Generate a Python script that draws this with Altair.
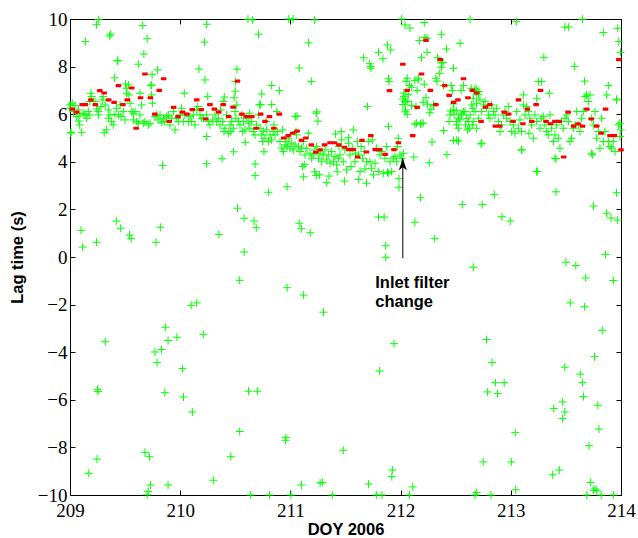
import altair as alt
import pandas as pd

# ---------------- data ----------------
# red hourly lag estimates (DOY, lag s)
red_x = [209.02, 209.06, 209.11, 209.14, 209.19, 209.23, 209.27, 209.31, 209.35, 209.40,
         209.44, 209.48, 209.52, 209.56, 209.60, 209.64, 209.68, 209.73, 209.77, 209.81,
         209.85, 209.90, 209.94, 209.98, 210.02, 210.06, 210.11, 210.15, 210.19, 210.23,
         210.27, 210.31, 210.35, 210.39, 210.44, 210.48, 210.52, 210.56, 210.60, 210.65,
         210.69, 210.73, 210.77, 210.81, 210.85, 210.90, 210.94, 210.98, 211.02, 211.06,
         211.10, 211.14, 211.19, 211.23, 211.27, 211.31, 211.36, 211.40, 211.44, 211.49,
         211.53, 211.57, 211.61, 211.65, 211.69, 211.73, 211.77, 211.81, 211.86, 211.90,
         211.94, 211.98, 212.02, 212.06, 212.11, 212.15, 212.19, 212.23, 212.27, 212.32,
         212.36, 212.40, 212.44, 212.48, 212.52, 212.57, 212.61, 212.65, 212.69, 212.73,
         212.77, 212.81, 212.86, 212.90, 212.94, 212.98, 213.02, 213.07, 213.11, 213.15,
         213.19, 213.23, 213.27, 213.32, 213.36, 213.40, 213.44, 213.48, 213.52, 213.57,
         213.61, 213.65, 213.69, 213.73, 213.78, 213.82, 213.86, 213.90, 213.94, 213.98,
         214.00]
red_y = [6.21, 6.09, 6.40, 6.40, 6.60, 6.40, 6.99, 6.89, 6.60, 6.50,
         7.20, 6.40, 6.60, 7.10, 5.41, 6.69, 7.69, 6.69, 6.00, 7.00,
         7.49, 5.70, 6.29, 5.90, 6.09, 6.00, 6.19, 6.60, 6.19, 5.80,
         6.40, 6.21, 6.09, 6.40, 5.90, 6.30, 7.39, 6.00, 5.90, 5.90,
         5.41, 6.00, 5.70, 5.90, 5.41, 6.00, 5.00, 5.10, 5.20, 5.29,
         4.90, 5.00, 4.71, 4.40, 4.50, 4.71, 4.80, 4.80, 4.71, 4.61,
         4.51, 4.51, 4.20, 4.90, 4.41, 5.10, 4.51, 4.51, 4.31, 6.99,
         4.51, 4.80, 8.10, 7.00, 5.10, 6.29, 7.69, 9.10, 7.00, 6.40,
         8.29, 7.20, 6.79, 6.50, 6.60, 7.49, 6.69, 7.00, 6.89, 5.70,
         6.30, 6.40, 5.50, 5.50, 6.09, 6.00, 5.70, 6.60, 5.60, 6.21,
         5.70, 6.40, 7.00, 5.70, 5.60, 5.70, 5.70, 4.20, 6.09, 5.50,
         5.60, 5.50, 6.21, 5.80, 5.50, 5.20, 6.21, 5.10, 5.10, 8.29,
         4.50]

# green individual lag determinations, as (DOY, lag s) pairs
green_band_209 = [
    (209.00, 6.39), (209.02, 6.46), (209.00, 6.25), (209.045, 6.36), (209.03, 6.11),
    (209.076, 6.18), (209.09, 5.97), (209.06, 5.90), (209.08, 5.71), (209.01, 5.24),
    (209.088, 5.55), (209.106, 5.24), (209.12, 6.04), (209.136, 5.97), (209.151, 5.83),
    (209.166, 6.11), (209.18, 5.97), (209.19, 6.88), (209.18, 6.53), (209.196, 6.74),
    (209.227, 6.53), (209.242, 6.22), (209.257, 6.11), (209.257, 5.97), (209.28, 6.32),
    (209.293, 6.60), (209.302, 6.74), (209.31, 5.22), (209.33, 5.34), (209.32, 6.39),
    (209.348, 6.18), (209.348, 5.83), (209.363, 5.97), (209.378, 5.69), (209.393, 5.55),
    (209.408, 5.99), (209.423, 6.25), (209.439, 5.97), (209.454, 6.39), (209.463, 5.90),
    (209.484, 6.11), (209.499, 5.76), (209.514, 7.09), (209.53, 7.23), (209.514, 6.88),
    (209.535, 6.81), (209.545, 6.46), (209.56, 6.11), (209.575, 6.04), (209.575, 5.76),
    (209.59, 6.11), (209.605, 5.69), (209.62, 5.62), (209.635, 5.97), (209.65, 6.39),
    (209.635, 6.88), (209.665, 5.62), (209.68, 5.69), (209.71, 5.55), (209.726, 5.62),
    (209.741, 6.81), (209.747, 6.46), (209.741, 7.23), (209.771, 5.90), (209.786, 5.97),
    (209.80, 5.76), (209.817, 5.97), (209.832, 5.66), (209.847, 5.83), (209.856, 5.69),
    (209.877, 5.90), (209.892, 5.97), (209.907, 5.55), (209.922, 5.83), (209.938, 6.11),
    (209.953, 5.34), (209.968, 5.83), (209.983, 5.69), (209.998, 5.97), (210.013, 6.25),
    (210.028, 5.69), (210.037, 6.88), (210.043, 5.97), (210.074, 5.69), (210.089, 5.90),
    (210.104, 5.69), (210.12, 5.97), (210.134, 5.55), (210.15, 6.18), (210.16, 6.32),
    (210.18, 5.97), (210.195, 5.83), (210.21, 5.83), (209.006, 5.21), (209.735, 7.20),
]
green_band_210 = [
    (210.24, 5.97), (210.255, 5.69), (210.24, 5.06), (210.27, 5.55), (210.295, 5.76),
    (210.316, 5.97), (210.331, 5.69), (210.346, 5.83), (210.361, 5.55), (210.367, 6.18),
    (210.385, 5.69), (210.39, 6.53), (210.397, 5.27), (210.406, 5.41), (210.42, 5.97),
    (210.437, 5.20), (210.452, 5.55), (210.458, 5.27), (210.467, 5.69), (210.482, 5.41),
    (210.497, 6.11), (210.506, 5.83), (210.513, 6.39), (210.528, 5.69), (210.543, 5.55),
    (210.558, 5.97), (210.567, 5.27), (210.573, 5.69), (210.588, 5.34), (210.603, 5.83),
    (210.618, 5.62), (210.627, 6.04), (210.633, 5.41), (210.649, 5.69), (210.664, 5.27),
    (210.679, 5.13), (210.694, 5.55), (210.709, 5.97), (210.718, 6.39), (210.724, 5.41),
    (210.74, 5.13), (210.748, 4.85), (210.754, 5.27), (210.77, 4.99), (210.779, 5.69),
    (210.785, 5.34), (210.80, 4.85), (210.815, 5.13), (210.83, 4.92), (210.845, 5.27),
    (210.851, 5.55), (210.86, 5.13), (210.876, 6.11), (210.882, 5.27), (210.906, 4.85),
    (210.921, 4.57), (210.93, 5.34), (210.936, 4.43), (210.951, 4.71), (210.96, 4.85),
    (210.972, 4.64), (210.981, 4.99), (210.996, 4.57), (211.012, 4.78), (211.027, 4.50),
    (211.042, 4.71), (211.051, 5.27), (211.057, 5.13), (211.072, 4.64), (211.087, 4.43),
    (211.102, 4.57), (211.117, 4.85), (211.133, 4.29), (211.148, 4.57), (211.163, 5.20),
    (211.178, 4.36), (211.193, 4.15), (211.208, 4.29), (211.223, 4.50), (211.238, 4.64),
    (211.254, 4.15), (211.269, 4.36), (211.284, 4.00), (211.299, 4.29), (211.314, 4.50),
    (211.329, 4.08), (211.344, 4.29), (211.36, 3.94), (211.375, 4.43), (211.39, 4.00),
    (211.405, 4.22), (211.42, 3.87), (211.435, 4.15),
]
green_band_211 = [
    (211.441, 4.64), (211.45, 4.29), (211.465, 4.92), (211.48, 4.00), (211.495, 4.50),
    (211.51, 3.66), (211.526, 4.78), (211.541, 4.29), (211.55, 3.80), (211.562, 4.57),
    (211.571, 5.34), (211.586, 4.00), (211.592, 4.36), (211.61, 4.85), (211.617, 4.29),
    (211.632, 3.59), (211.641, 4.64), (211.653, 4.15), (211.671, 4.43), (211.677, 3.70),
    (211.692, 4.00), (211.707, 4.85), (211.722, 4.00), (211.737, 3.73), (211.744, 4.92),
    (211.753, 3.45), (211.768, 3.94), (211.783, 4.57), (211.798, 3.59), (211.813, 4.29),
    (211.828, 4.43), (211.843, 3.52), (211.858, 4.15), (211.874, 4.64), (211.889, 3.52),
    (211.904, 4.00), (211.919, 3.59), (211.934, 4.15), (211.949, 4.22), (211.964, 4.00),
    (211.973, 4.64), (211.979, 4.99), (211.994, 4.29), (212.01, 4.15), (212.025, 4.36),
    (211.41, 5.17), (211.462, 5.27), (211.526, 5.01),
]
green_band_212 = [
    (212.448, 5.97), (212.478, 6.18), (212.509, 5.55), (212.539, 5.76), (212.554, 5.97),
    (212.584, 6.11), (212.60, 5.83), (212.63, 5.97), (212.66, 5.69), (212.675, 6.11),
    (212.705, 5.83), (212.69, 5.41), (212.608, 5.34), (212.524, 5.41),
    (211.89, 7.49), (212.06, 7.51), (212.16, 7.51), (212.13, 7.42), (212.215, 7.26),
    (212.08, 7.20), (212.10, 7.13), (212.15, 7.00), (212.32, 7.51), (212.33, 7.39),
    (212.39, 7.20), (212.46, 7.20), (212.47, 6.99), (212.57, 7.20), (212.55, 7.00),
    (212.64, 7.09), (212.675, 7.09), (212.69, 6.89), (212.03, 6.75), (212.045, 6.55),
    (212.065, 6.53), (212.045, 6.18), (212.04, 6.10), (212.06, 6.00), (212.23, 6.69),
    (212.245, 6.42), (212.275, 6.21), (212.30, 6.36), (212.265, 6.06), (212.145, 5.62),
    (212.185, 5.62), (212.205, 5.62), (212.455, 6.13), (212.485, 6.00), (212.505, 5.69),
    (212.44, 5.69), (212.525, 5.83), (212.55, 6.04), (212.57, 6.10), (212.59, 5.55),
    (212.615, 5.69), (212.625, 5.41), (212.65, 5.55), (212.645, 6.39), (212.655, 6.25),
    (212.525, 4.87), (212.48, 6.43), (212.505, 6.15), (212.66, 6.67), (212.71, 6.95),
    (212.30, 6.40), (212.03, 6.89), (212.07, 6.82), (212.02, 6.41), (212.10, 6.37),
    (212.14, 6.33), (212.205, 6.50),
]
green_band_213 = [
    (212.69, 7.02), (212.705, 6.81), (212.72, 6.60), (212.69, 6.46), (212.736, 6.11),
    (212.751, 6.39), (212.766, 6.53), (212.781, 6.25), (212.796, 5.97), (212.811, 5.83),
    (212.826, 6.39), (212.841, 6.11), (212.857, 5.97), (212.872, 6.25), (212.887, 5.69),
    (212.902, 5.27), (212.917, 5.55), (212.932, 5.97), (212.947, 6.11), (212.962, 5.83),
    (212.977, 6.32), (212.993, 5.69), (213.008, 5.27), (213.023, 5.55), (213.038, 5.20),
    (213.053, 6.11), (213.068, 5.41), (213.083, 5.76), (213.098, 5.27), (213.114, 6.81),
    (213.114, 6.39), (213.129, 5.97), (213.144, 6.32), (213.159, 6.11), (213.165, 5.20),
    (213.174, 5.83), (213.189, 5.55), (213.204, 4.99), (213.219, 5.97), (213.235, 6.67),
    (213.235, 5.69), (213.25, 7.37), (213.265, 5.41), (213.28, 5.83), (213.295, 5.90),
    (213.31, 5.55), (213.325, 5.27), (213.34, 5.13), (213.356, 5.97), (213.371, 5.41),
    (213.386, 4.85), (213.401, 5.13), (213.416, 5.55), (213.431, 4.99), (213.446, 4.57),
    (213.461, 5.69), (213.477, 5.41), (213.492, 5.83), (213.507, 5.97), (213.522, 5.69),
    (213.537, 4.85), (213.552, 4.99), (213.567, 5.41), (213.582, 5.55), (213.598, 6.11),
    (213.613, 5.55), (213.628, 5.27), (213.643, 5.83), (213.658, 6.11), (213.673, 6.74),
    (213.688, 6.81), (213.703, 6.53), (213.719, 6.81), (213.734, 5.83), (213.749, 5.55),
    (213.764, 6.11), (213.779, 4.99), (213.794, 5.27), (213.809, 4.57), (213.824, 5.83),
    (213.84, 4.85), (213.855, 5.27), (213.87, 6.81), (213.885, 4.85), (213.90, 4.64),
    (213.915, 4.57), (213.93, 4.85), (213.945, 4.43), (213.96, 6.60), (213.976, 5.55),
    (213.99, 5.06), (213.998, 5.34), (212.736, 4.78), (213.098, 4.50), (213.401, 4.15),
    (213.734, 4.36), (213.35, 6.88), (213.28, 7.37),
]
green_upper = [
    (212.01, 10.0), (212.04, 9.75), (212.085, 9.62), (212.215, 9.85), (212.63, 9.99),
    (213.05, 9.89), (213.49, 9.66), (213.525, 9.66), (213.65, 9.99), (213.84, 9.43),
    (213.97, 9.61), (213.98, 9.05), (213.995, 8.60), (212.22, 9.22), (212.37, 9.36),
    (212.54, 8.98), (211.88, 8.91), (211.91, 8.70), (211.80, 8.60), (211.665, 8.37),
    (211.72, 8.12), (211.73, 7.93), (211.84, 8.33), (212.24, 8.60), (212.19, 8.37),
    (212.37, 8.15), (212.355, 7.72), (212.415, 8.74), (212.48, 7.93), (213.30, 8.39),
    (213.58, 8.01), (213.67, 7.39), (213.885, 7.20), (213.96, 6.63), (211.70, 6.32),
    (211.89, 5.49), (211.895, 7.37), (212.05, 7.38), (212.02, 6.64), (212.04, 6.51),
    (212.16, 7.44), (212.13, 5.58), (212.18, 5.58), (212.285, 4.83), (212.48, 4.90),
    (212.42, 4.30), (212.73, 4.75), (213.99, 5.62), (212.39, 5.31), (212.51, 4.91),
    (209.24, 9.76), (209.26, 9.97), (209.14, 9.05), (209.37, 9.36), (209.36, 9.29),
    (209.66, 9.73), (209.70, 9.17), (209.67, 8.53), (209.62, 8.10), (209.43, 8.24),
    (209.435, 8.26), (209.405, 7.53), (209.505, 7.27), (209.795, 7.86), (209.745, 7.66),
    (210.24, 9.78), (210.22, 9.03), (210.17, 7.90), (210.225, 7.44), (210.515, 7.89),
    (210.50, 7.37), (210.615, 9.99), (210.655, 9.96), (210.71, 9.36), (210.83, 7.21),
    (210.90, 6.99), (210.985, 10.0), (211.025, 10.0), (211.22, 9.96), (211.165, 9.00),
    (211.08, 7.94), (211.19, 7.38), (211.235, 6.04), (211.045, 5.90), (210.74, 6.85),
    (210.50, 6.97), (210.49, 6.69), (210.25, 6.75), (210.40, 6.72), (210.73, 6.41),
    (210.83, 6.41), (211.06, 5.92), (211.24, 6.10), (211.25, 5.71), (211.73, 8.00),
    (212.24, 9.19), (212.17, 9.10), (212.335, 8.37), (212.385, 8.18), (212.37, 7.97),
]
green_middle = [
    (209.10, 1.12), (209.115, 0.42), (209.24, 0.62), (209.42, 1.51), (209.46, 1.21),
    (209.54, 0.92), (209.555, 0.77), (209.78, 0.62), (209.82, 1.25), (209.84, 3.85),
    (210.24, 3.92), (210.35, 0.95), (210.38, 4.13), (210.485, 4.42), (210.52, 2.05),
    (210.58, 1.63), (210.58, 0.21), (210.67, 1.51), (210.69, 1.23), (210.68, 3.91),
    (210.68, 3.42), (210.80, 2.72), (210.97, 2.95), (211.08, 1.42), (211.10, 1.19),
    (211.18, 1.02), (211.12, 3.37), (211.13, 3.88), (211.80, 1.68), (211.85, 1.68),
    (211.865, 0.47), (211.865, -0.01), (211.985, 2.93), (211.985, 3.29), (212.18, 2.49),
    (212.13, 1.46), (212.31, 0.77), (212.56, 2.20), (212.74, 2.20), (212.85, 2.62),
    (212.92, 1.69), (212.995, 1.51), (213.24, 3.60), (213.41, 2.74), (213.75, 2.14),
    (213.87, 1.84), (213.91, 1.64), (213.96, 2.70), (213.97, 1.55), (213.86, 0.11),
    (211.88, 3.56), (212.12, 4.20), (212.26, 3.96), (213.10, 4.50), (213.41, 4.13),
    (213.74, 4.30), (211.49, 3.19), (211.62, 3.26), (211.69, 3.10), (211.11, 3.80),
    (211.235, 3.42), (211.22, 3.58), (211.33, 3.12), (211.35, 3.40), (211.425, 3.58),
    (210.76, 4.42), (210.59, 4.82), (211.265, 3.45), (213.235, 3.58),
]
green_lower = [
    (210.54, -0.98), (210.97, -1.29), (211.12, -1.60), (210.10, -2.03), (210.15, -1.93),
    (209.865, -2.95), (210.21, -3.25), (209.32, -3.56), (209.89, -3.51), (209.97, -3.37),
    (209.83, -3.89), (209.77, -3.99), (209.79, -4.44), (210.02, -4.69), (209.25, -5.56),
    (209.255, -5.65), (209.86, -5.70), (210.03, -5.88), (210.62, -5.64), (210.70, -5.64),
    (210.11, -6.51), (210.54, -7.33), (210.96, -7.59), (210.955, -7.70), (209.68, -8.21),
    (209.72, -8.39), (210.46, -8.39), (209.245, -8.49), (209.17, -9.09), (210.30, -9.38),
    (209.73, -9.58), (209.89, -9.58), (211.10, -9.58), (209.71, -9.85), (209.70, -9.99),
    (210.64, -10.0), (210.81, -10.0), (211.005, -10.0), (211.27, -9.50), (212.66, -0.43),
    (213.50, -0.22), (213.59, -0.36), (213.68, -0.88), (213.93, -0.99), (213.54, -1.93),
    (213.67, -2.09), (211.30, -2.32), (213.83, -3.08), (211.94, -3.64), (212.78, -3.47),
    (213.76, -4.19), (212.83, -4.43), (213.49, -4.63), (211.81, -4.79), (213.63, -4.92),
    (212.86, -5.28), (212.94, -5.28), (213.65, -5.28), (212.79, -5.67), (212.88, -5.74),
    (213.66, -5.87), (213.47, -6.09), (213.39, -6.37), (213.49, -6.51), (213.47, -6.79),
    (213.79, -6.23), (213.80, -7.23), (213.04, -7.38), (211.48, -8.12), (213.71, -7.93),
    (212.75, -8.61), (213.005, -8.61), (213.44, -8.95), (213.38, -9.15), (211.925, -8.95),
    (211.92, -9.23), (211.29, -9.47), (211.71, -9.54), (212.11, -9.66), (213.045, -9.78),
    (213.725, -9.47), (213.75, -9.80), (213.765, -9.75), (213.78, -9.82), (213.82, -10.0),
    (211.38, -10.0), (211.78, -10.0), (211.83, -10.0), (212.08, -10.0), (212.675, -10.0),
    (212.69, -9.90), (212.82, -10.0), (213.69, -10.0), (213.93, -10.0),
]

x_ticks = [209, 210, 211, 212, 213, 214]
y_ticks = [-10, -8, -6, -4, -2, 0, 2, 4, 6, 8, 10]

annotation_text = ["Inlet filter", "change"]
annotation_pos = (211.77, -1.30)
arrow_x = 212.02
arrow_from = -0.05
arrow_tip = 4.15

# ---------------- build tables ----------------
green_all = (green_band_209 + green_band_210 + green_band_211 + green_band_212 +
             green_band_213 + green_upper + green_middle + green_lower)
green_df = pd.DataFrame(green_all, columns=["doy", "lag"])
red_df = pd.DataFrame({"doy": red_x, "lag": red_y})
arrow_df = pd.DataFrame({"doy": [arrow_x], "lag": [arrow_from], "lag2": [arrow_tip]})
head_df = pd.DataFrame({"doy": [arrow_x], "lag": [arrow_tip]})
text_df = pd.DataFrame({"doy": [annotation_pos[0]], "lag": [annotation_pos[1]]})

W, H = 551, 476
xs = alt.Scale(domain=[209, 214], nice=False, zero=False)
ys = alt.Scale(domain=[-10, 10], nice=False, zero=False)

SERIF = "Liberation Serif"
SANS = "Liberation Sans"

# main axes with labels and titles
x_main = alt.Axis(values=x_ticks, format="d", orient="bottom", ticks=False, tickSize=0,
                  domain=False, grid=False, labelFont=SERIF, labelFontSize=19,
                  labelColor="black", labelPadding=6, labelFlush=False, labelOverlap=False,
                  title="DOY 2006", titleFont=SANS, titleFontSize=16.5, titleFontWeight="bold",
                  titleColor="black", titlePadding=1)
y_main = alt.Axis(values=y_ticks, format="d", orient="left", ticks=False, tickSize=0,
                  domain=False, grid=False, labelFont=SERIF, labelFontSize=19,
                  labelColor="black", labelPadding=3, labelFlush=False, labelOverlap=False,
                  title="Lag time (s)", titleFont=SANS, titleFontSize=16.5,
                  titleFontWeight="bold", titleColor="black", titlePadding=12)
# inward ticks at bottom and left edges
x_in_bottom = alt.Axis(values=x_ticks, orient="top", offset=-H, labels=False, domain=False,
                       grid=False, ticks=True, tickSize=5, tickColor="black", title=None)
y_in_left = alt.Axis(values=y_ticks, orient="right", offset=-W, labels=False, domain=False,
                     grid=False, ticks=True, tickSize=5, tickColor="black", title=None)
# inward ticks at top and right edges
x_in_top = alt.Axis(values=x_ticks, orient="bottom", offset=-H, labels=False, domain=False,
                    grid=False, ticks=True, tickSize=5, tickColor="black", title=None)
y_in_right = alt.Axis(values=y_ticks, orient="left", offset=-W, labels=False, domain=False,
                      grid=False, ticks=True, tickSize=5, tickColor="black", title=None)

PLUS = "M-1,0L1,0M0,-1L0,1"
DASH = "M-0.8,-0.5L0.8,-0.5Q1.05,0 0.8,0.5L-0.8,0.5Q-1.05,0 -0.8,-0.5Z"
HEAD = "M0,0L0.67,2L0,1.5L-0.67,2Z"

green = alt.Chart(green_df).mark_point(
    shape=PLUS, filled=False, size=64, strokeWidth=1, color="#00ff00", opacity=1
).encode(
    x=alt.X("doy:Q", scale=xs, axis=x_main),
    y=alt.Y("lag:Q", scale=ys, axis=y_main),
)

red = alt.Chart(red_df).mark_point(
    shape=DASH, filled=True, size=40, strokeWidth=0, color="#ff0000", opacity=1
).encode(
    x=alt.X("doy:Q", scale=xs, axis=x_in_bottom),
    y=alt.Y("lag:Q", scale=ys, axis=y_in_left),
)

arrow_line = alt.Chart(arrow_df).mark_rule(color="black", strokeWidth=1).encode(
    x=alt.X("doy:Q", scale=xs, axis=x_in_top),
    y=alt.Y("lag:Q", scale=ys, axis=y_in_right),
    y2="lag2:Q",
)

arrow_head = alt.Chart(head_df).mark_point(
    shape=HEAD, filled=True, size=144, strokeWidth=0, color="black", opacity=1
).encode(
    x=alt.X("doy:Q", scale=xs, axis=None),
    y=alt.Y("lag:Q", scale=ys, axis=None),
)

label = alt.Chart(text_df).mark_text(
    text=annotation_text, align="left", baseline="alphabetic", font=SANS,
    fontSize=16.5, fontWeight="bold", lineHeight=19.3, color="black"
).encode(
    x=alt.X("doy:Q", scale=xs, axis=None),
    y=alt.Y("lag:Q", scale=ys, axis=None),
)

chart = alt.layer(green, red, arrow_line, arrow_head, label).resolve_axis(
    x="independent", y="independent"
).properties(
    width=W, height=H,
    autosize=alt.AutoSizeParams(type="none"),
    padding={"left": 70, "top": 19, "right": 17, "bottom": 43},
    background="white",
).configure_view(stroke="black", strokeWidth=1)

chart.save("out.html", embed_options={"renderer": "svg", "actions": False})
